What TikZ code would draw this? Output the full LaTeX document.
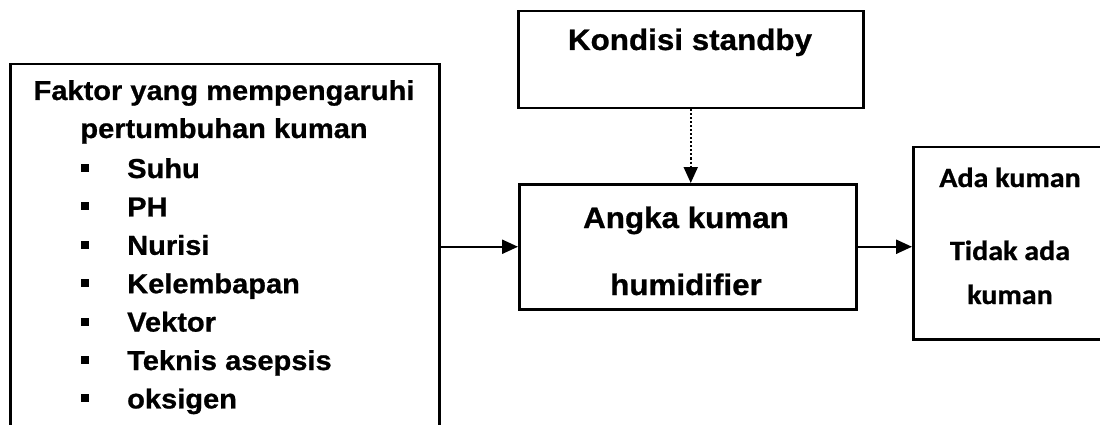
\documentclass[tikz,border=0pt]{standalone}
\usepackage{fontspec}
\usetikzlibrary{arrows.meta}
\newfontfamily\arialfont{Liberation Sans}[FakeStretch=1.06,FakeBold=0.8]
\newfontfamily\calibrifont{Carlito}[FakeStretch=1.08,FakeBold=0.8]

\begin{document}
\begin{tikzpicture}[x=1pt,y=-1pt,
  box/.style={draw,line width=2.5pt,rectangle,inner sep=0pt,anchor=north west},
  arr/.style={-{Triangle[length=16pt,width=14pt]},line width=2.4pt},
  dotarr/.style={-{Triangle[length=16pt,width=14pt]},line width=2pt,dash pattern=on 2pt off 2pt},
  lefttxt/.style={inner sep=0pt,anchor=base,font=\arialfont\bfseries\fontsize{27.4}{32}\selectfont},
  item/.style={inner sep=0pt,anchor=base west,font=\arialfont\bfseries\fontsize{27.4}{32}\selectfont},
  bul/.style={inner sep=0pt,anchor=base west},
  midtxt/.style={inner sep=0pt,anchor=base,font=\arialfont\bfseries\fontsize{29.6}{34}\selectfont},
  righttxt/.style={inner sep=0pt,anchor=base,font=\calibrifont\bfseries\fontsize{27.8}{32}\selectfont}]
\useasboundingbox (0,0) rectangle (1100,425);
\clip (0,0) rectangle (1100,425);

% boxes
\node[box,minimum width=429pt,minimum height=380pt] (faktor) at (9,63) {};
\node[box,minimum width=345pt,minimum height=97pt] (standby) at (517,10) {};
\node[box,minimum width=337pt,minimum height=125pt] (angka) at (518,183) {};
\node[box,minimum width=200pt,minimum height=192pt] (hasil) at (912,146) {};

% left box text
\node[lefttxt] (f1) at (224,100) {Faktor yang mempengaruhi};
\node[lefttxt] (f2) at (224,138) {pertumbuhan kuman};
\foreach \t [count=\i] in {Suhu,PH,Nurisi,Kelembapan,Vektor,Teknis asepsis,oksigen}{
  \pgfmathsetmacro{\yy}{178+38.4*(\i-1)}
  \node[bul] (b\i) at (81,\yy) {\rule[6pt]{8pt}{8pt}};
  \node[item] (t\i) at (127,\yy) {\t};
}

% other texts
\node[midtxt] (ks) at (690,50) {Kondisi standby};
\node[midtxt] (ak) at (686,228) {Angka kuman};
\node[midtxt] (hu) at (686,295) {humidifier};
\node[righttxt] (r1) at (1010,187) {Ada kuman};
\node[righttxt] (r2) at (1010,260) {Tidak ada};
\node[righttxt] (r3) at (1010,304) {kuman};

% connectors
\draw[arr] (faktor.east |- angka.west) -- (angka.west);
\draw[arr] (angka.east) -- (hasil.west |- angka.east);
\draw[dotarr] (standby.south) -- (standby.south |- angka.north);
\end{tikzpicture}
\end{document}
